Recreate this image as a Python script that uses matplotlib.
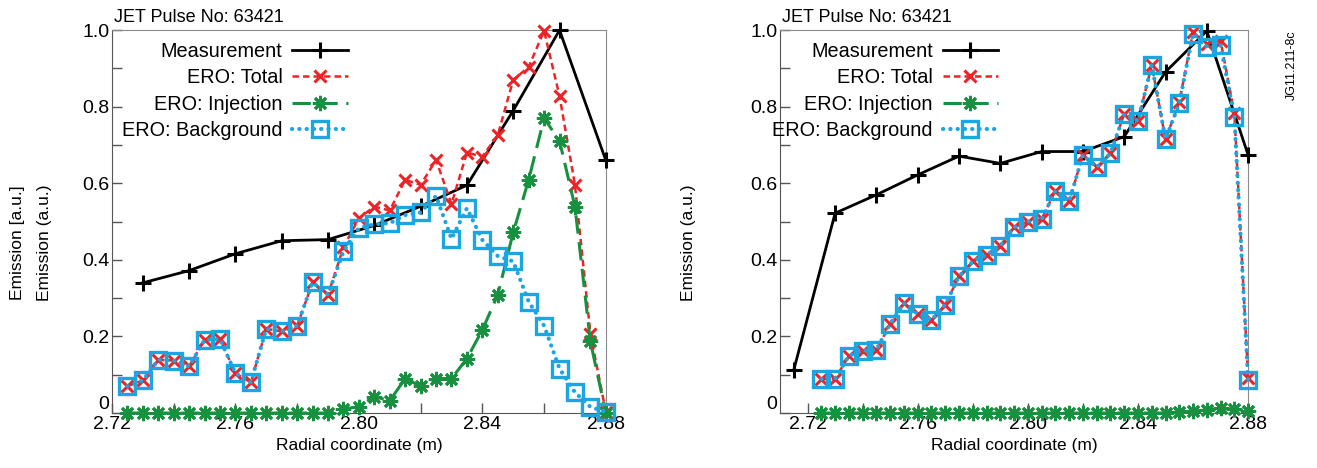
import numpy as np
import matplotlib
matplotlib.use("Agg")
import matplotlib.pyplot as plt
from matplotlib.ticker import MultipleLocator

plt.rcParams["font.family"] = ["Liberation Sans", "DejaVu Sans"]

# radial grid of the ERO model (both shots)
r_ero = np.arange(2.725, 2.8801, 0.005)

# left panel
r_meas_a = [2.730, 2.745, 2.760, 2.775, 2.790, 2.805, 2.820, 2.835, 2.850, 2.865, 2.880]
meas_a = [0.340, 0.372, 0.416, 0.450, 0.453, 0.490, 0.540, 0.595, 0.790, 1.000, 0.660]
total_a = [0.070, 0.085, 0.139, 0.137, 0.122, 0.191, 0.193, 0.104, 0.080, 0.220,
           0.213, 0.228, 0.341, 0.309, 0.433, 0.509, 0.539, 0.529, 0.609, 0.596,
           0.661, 0.546, 0.680, 0.670, 0.726, 0.870, 0.904, 0.998, 0.828, 0.596,
           0.207, 0.003]
inject_a = [0, 0, 0, 0, 0, 0, 0, 0, 0, 0,
            0, 0, 0, 0, 0.010, 0.017, 0.043, 0.032, 0.090, 0.070,
            0.090, 0.090, 0.142, 0.217, 0.309, 0.472, 0.609, 0.770, 0.711, 0.539,
            0.187, 0.0]
backgr_a = [0.070, 0.085, 0.139, 0.137, 0.122, 0.191, 0.193, 0.104, 0.080, 0.220,
            0.213, 0.228, 0.341, 0.309, 0.422, 0.483, 0.493, 0.496, 0.517, 0.524,
            0.567, 0.455, 0.535, 0.452, 0.410, 0.396, 0.291, 0.228, 0.116, 0.054,
            0.016, 0.003]

# right panel
r_meas_b = [2.715, 2.730, 2.745, 2.760, 2.775, 2.790, 2.805, 2.820, 2.835, 2.850, 2.865, 2.880]
meas_b = [0.113, 0.522, 0.570, 0.622, 0.671, 0.652, 0.683, 0.683, 0.722, 0.891, 0.998, 0.674]
backgr_b = [0.089, 0.089, 0.150, 0.163, 0.165, 0.233, 0.287, 0.259, 0.243, 0.283,
            0.357, 0.396, 0.413, 0.437, 0.485, 0.500, 0.506, 0.581, 0.553, 0.674,
            0.642, 0.678, 0.781, 0.763, 0.909, 0.715, 0.809, 0.991, 0.957, 0.960,
            0.773, 0.085]
inject_b = [0, 0, 0, 0, 0, 0, 0, 0, 0, 0,
            0, 0, 0, 0, 0, 0, 0, 0, 0, 0,
            0, 0, 0, 0, 0, 0, 0.003, 0.005, 0.008, 0.012,
            0.010, 0.006]
total_b = [0.089, 0.089, 0.150, 0.163, 0.165, 0.233, 0.287, 0.259, 0.243, 0.283,
           0.357, 0.396, 0.413, 0.437, 0.485, 0.500, 0.506, 0.581, 0.553, 0.674,
           0.642, 0.678, 0.781, 0.763, 0.909, 0.715, 0.812, 0.996, 0.965, 0.972,
           0.783, 0.091]

xticks = [2.72, 2.76, 2.80, 2.84, 2.88]
xtick_labels = ["2.72", "2.76", "2.80", "2.84", "2.88"]
yticks = [0, 0.2, 0.4, 0.6, 0.8, 1.0]
ytick_labels = ["0", "0.2", "0.4", "0.6", "0.8", "1.0"]

RED = "#ec2327"
GREEN = "#17913f"
BLUE = "#1ba6e1"


def draw_panel(ax, r_meas, meas, total, inject, backgr, xlim, leg_anchor):
    ax.plot(r_meas, meas, color="black", lw=2.0, marker="+", ms=11, mew=2.2,
            label="Measurement", zorder=3, clip_on=False)
    ax.plot(r_ero, total, color=RED, lw=1.8, ls=(0, (2.6, 1.6)), marker="x",
            ms=9, mew=2.2, label="ERO: Total", zorder=4, clip_on=False)
    ax.plot(r_ero, inject, color=GREEN, lw=2.2, ls=(0, (6, 2.8)), marker=(8, 2, 0),
            ms=11, mew=2.0, label="ERO: Injection", zorder=4, clip_on=False)
    ax.plot(r_ero, backgr, color=BLUE, lw=3.0, ls=(0, (0.05, 1.7)),
            dash_capstyle="round", marker="s", ms=11, mfc="none", mec=BLUE,
            mew=2.4, label="ERO: Background", zorder=5, clip_on=False)

    ax.set_xlim(*xlim)
    ax.set_ylim(0, 1.0)
    ax.set_xticks(xticks)
    ax.set_xticklabels(xtick_labels)
    ax.set_yticks(yticks)
    ax.set_yticklabels(ytick_labels)
    ax.get_yticklabels()[0].set_va("bottom")
    ax.xaxis.set_minor_locator(MultipleLocator(0.02))
    ax.yaxis.set_minor_locator(MultipleLocator(0.1))
    ax.tick_params(which="both", direction="in", length=7, width=1,
                   color="#555555", labelsize=14, top=False, right=False, pad=2)
    for side in ["top", "right"]:
        ax.spines[side].set_color("#8a8a8a")
    for side in ["left", "bottom"]:
        ax.spines[side].set_color("#555555")
    ax.set_xlabel("Radial coordinate (m)", fontsize=12.5, labelpad=4)
    ax.text(0.005, 1.012, "JET Pulse No: 63421", transform=ax.transAxes,
            fontsize=13, ha="left", va="bottom")

    leg = ax.legend(loc="upper right", bbox_to_anchor=leg_anchor, frameon=False,
                    markerfirst=False, fontsize=14.3, handlelength=2.8,
                    handletextpad=0.5, labelspacing=0.37, borderaxespad=0,
                    borderpad=0, numpoints=1)
    return leg


fig = plt.figure(figsize=(13.17, 4.68), dpi=100)
ax1 = fig.add_axes([0.085, 0.1175, 0.375, 0.818])
ax2 = fig.add_axes([0.5923, 0.1175, 0.3554, 0.818])

draw_panel(ax1, r_meas_a, meas_a, total_a, inject_a, backgr_a, (2.72, 2.88),
           (0.478, 0.969))
draw_panel(ax2, r_meas_b, meas_b, total_b, inject_b, backgr_b, (2.71, 2.88),
           (0.466, 0.969))

fig.text(18 / 1317, 1 - 243 / 468, "Emission [a.u.]", rotation=90,
         fontsize=12.5, ha="center", va="center")
fig.text(45 / 1317, 1 - 243 / 468, "Emission (a.u.)", rotation=90,
         fontsize=12.5, ha="center", va="center")
fig.text(688 / 1317, 1 - 243 / 468, "Emission (a.u.)", rotation=90,
         fontsize=12.5, ha="center", va="center")
fig.text(1292 / 1317, 1 - 30 / 468, "JG11.211-8c", rotation=90,
         fontsize=9, ha="center", va="top")

fig.savefig("out.png", dpi=100)
